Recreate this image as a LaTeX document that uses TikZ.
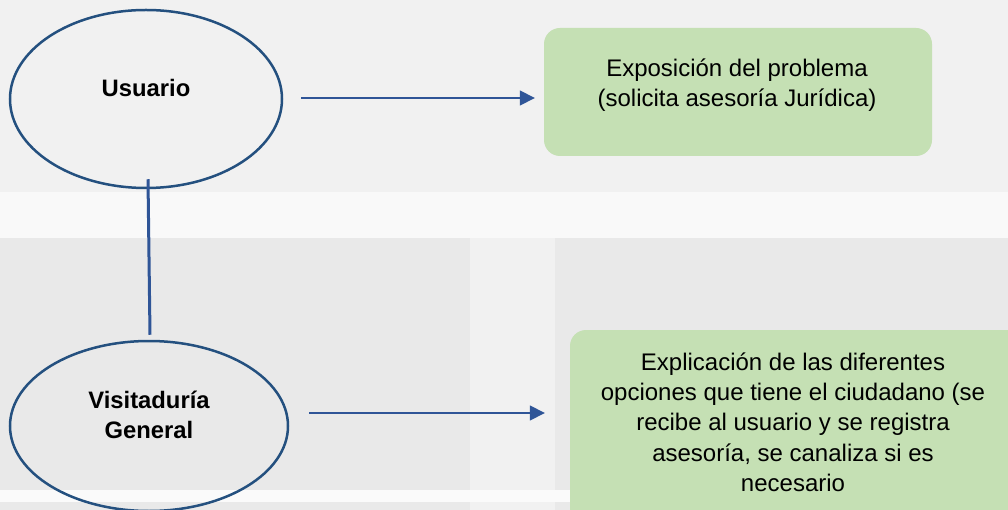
\documentclass[tikz,border=0pt]{standalone}
\usepackage{fontspec}
\setmainfont{Liberation Sans}
\usetikzlibrary{shapes.geometric,arrows.meta}
\definecolor{ellblue}{HTML}{24507F}
\definecolor{arrblue}{HTML}{2F5597}
\definecolor{boxgreen}{HTML}{C5E0B4}
\begin{document}
\begin{tikzpicture}[x=1pt,y=-1pt,
  oval/.style={ellipse,draw=ellblue,line width=2.5pt,inner sep=0pt},
  ovaltext/.style={font=\fontsize{23.8}{30}\selectfont\bfseries,align=center,inner sep=0pt},
  gbox/.style={rounded corners=16pt,fill=boxgreen,draw=none,inner sep=0pt},
  boxtext/.style={font=\fontsize{24}{30.3}\selectfont,align=center,inner sep=0pt},
  flow/.style={draw=arrblue,line width=1.6pt,-{Triangle[length=15pt,width=15pt]}},
  link/.style={draw=arrblue,line width=3pt}]
% background
\fill[gray!11] (0,0) rectangle (1008,510);
\fill[gray!5] (0,192) rectangle (1008,238);
\fill[gray!17] (0,238) rectangle (1008,510);
\fill[gray!11] (470,238) rectangle (555,510);
\fill[gray!4] (0,490) rectangle (570,502);
\useasboundingbox (0,0) rectangle (1008,510);
% shapes
\node[oval,minimum width=272pt,minimum height=178pt] (u) at (146,99) {};
\node[ovaltext] (ut) at (146,88) {Usuario};
\node[oval,minimum width=278pt,minimum height=170pt] (v) at (149,426) {};
\node[ovaltext] (vt) at (149,414.5) {Visitaduría\\General};
\node[gbox,minimum width=388pt,minimum height=128pt] (b1) at (738,92) {};
\node[boxtext] (b1t) at (737,85) {Exposición del problema\\(solicita asesoría Jurídica)};
\node[gbox,minimum width=470pt,minimum height=210pt] (b2) at (805,435) {};
\node[boxtext] (b2t) at (793,422) {Explicación de las diferentes\\opciones que tiene el ciudadano (se\\recibe al usuario y se registra\\asesoría, se canaliza si es\\necesario};
% connectors
\draw[flow,shorten <=18pt,shorten >=9pt] ([yshift=1pt]u.east) -- ([yshift=1pt]u.east -| b1.west);
\draw[flow,shorten <=20pt,shorten >=25pt] ([yshift=13pt]v.east) -- ([yshift=13pt]v.east -| b2.west);
\draw[link] ([xshift=2pt,yshift=10pt]u.south) -- ([xshift=1pt,yshift=5pt]v.north);
\end{tikzpicture}
\end{document}
